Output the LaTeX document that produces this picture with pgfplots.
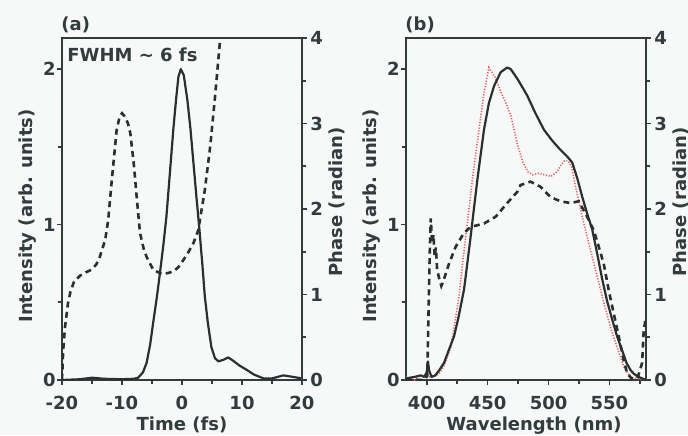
\documentclass[border=0pt]{standalone}
\usepackage{fontspec}
\setmainfont{DejaVu Sans}
\usepackage{pgfplots}
\pgfplotsset{compat=1.18}

\definecolor{ink}{RGB}{50,60,60}
\definecolor{curve}{RGB}{42,48,48}
\definecolor{redcurve}{RGB}{232,96,96}
\definecolor{paper}{RGB}{247,249,249}

\pgfplotsset{
  panel/.style={
    scale only axis, width=120pt, height=171pt,
    anchor=south west, ymin=0,
    axis line style={draw=ink, line width=1pt},
    tick style={draw=ink, line width=0.8pt},
    major tick length=2.5pt, minor tick length=1.8pt,
    tick align=outside,
    tick label style={font=\fontsize{9}{10}\selectfont\bfseries, text=ink},
    label style={font=\fontsize{9}{10}\selectfont\bfseries, text=ink},
    xticklabel style={anchor=base, yshift=-12pt},
    xlabel style={at={(axis description cs:0.5,0)}, anchor=base, yshift=-25pt},
  },
  % ylabels are rotated by 90 degrees, so xshift moves them up and yshift moves them left
  leftpanel/.style={panel, xtick pos=bottom, ytick pos=left, ymax=2.2,
    ytick={0,1,2}, yticklabels={0,1,2}, minor ytick={0.5,1.5},
    yticklabel style={anchor=east, inner sep=0pt, xshift=-0.5pt},
    ylabel={Intensity (arb. units)},
    ylabel style={at={(axis description cs:0,0.5)}, anchor=center, xshift=-3.5pt, yshift=17.2pt},
  },
  rightpanel/.style={panel, axis x line=none, axis y line*=right, ymax=4,
    ytick={0,1,2,3,4}, yticklabels={0,1,2,3,4}, minor ytick={0.5,1.5,2.5,3.5},
    yticklabel style={anchor=west, inner sep=0pt, xshift=1.5pt},
    ylabel={Phase (radian)},
    ylabel style={overlay, at={(axis description cs:1,0.5)}, anchor=center, xshift=3.5pt, yshift=-17.2pt},
  },
  solidline/.style={color=curve, line width=1.1pt, line join=round},
  dashline/.style={color=curve, line width=1.3pt, dash pattern=on 3pt off 2.2pt},
  dotline/.style={color=redcurve, line width=0.8pt, dash pattern=on 0.6pt off 0.8pt},
}

\begin{document}
\begin{tikzpicture}
\fill[paper] (0,0) rectangle (344pt,217.5pt);
\useasboundingbox (0,0) rectangle (344pt,217.5pt);

% ---------- (a) temporal profile ----------
\begin{axis}[leftpanel, at={(31pt,27.5pt)},
  xmin=-20, xmax=20,
  xtick={-20,-10,0,10,20}, xticklabels={-20,-10,0,10,20},
  minor xtick={-15,-5,5,15},
  xlabel={Time (fs)}]
\addplot[solidline] coordinates {
  (-20,0.0) (-17,0.005) (-15,0.015) (-13,0.008) (-10,0.005) (-8,0.008)
  (-7.3,0.015) (-6.5,0.05) (-5.9,0.11) (-5.3,0.23) (-4.8,0.37) (-4.2,0.53)
  (-3.7,0.68) (-3.1,0.87) (-2.6,1.05) (-2.0,1.34) (-1.45,1.61) (-1.0,1.80)
  (-0.6,1.95) (-0.2,2.0) (0.3,1.96) (0.9,1.80) (1.4,1.62) (1.9,1.40)
  (2.4,1.18) (2.9,0.97) (3.4,0.74) (3.8,0.54) (4.3,0.37) (4.9,0.21)
  (5.5,0.14) (6.05,0.12) (6.9,0.13) (7.7,0.145) (8.5,0.125) (9.5,0.095)
  (10.8,0.065) (12,0.035) (13.6,0.01) (15,0.01) (16.9,0.03) (18.5,0.02) (20,0.01)
};
\end{axis}
\begin{axis}[rightpanel, at={(31pt,27.5pt)}, xmin=-20, xmax=20]
\addplot[dashline] coordinates {
  (-20,0.0) (-19.8,0.35) (-19.5,0.62) (-19.0,0.9) (-18.6,1.03) (-18,1.15)
  (-17,1.22) (-16,1.26) (-15.1,1.29) (-14.3,1.35) (-13.7,1.44) (-12.8,1.64)
  (-12.3,1.87) (-11.7,2.34) (-11.2,2.7) (-10.9,2.92) (-10.4,3.08) (-10.0,3.12)
  (-9.5,3.08) (-9,3.0) (-8.6,2.88) (-8,2.5) (-7.5,2.1) (-7,1.72) (-6.4,1.54)
  (-5.9,1.44) (-4.8,1.29) (-3.4,1.24) (-2.4,1.25) (-1.45,1.27) (-0.6,1.32)
  (0.2,1.4) (1.1,1.5) (1.9,1.6) (2.7,1.75) (3.8,2.22) (4.7,2.73) (5.5,3.31)
  (6.3,3.94) (6.4,4.05)
};
\end{axis}

% ---------- (b) spectrum ----------
\begin{axis}[leftpanel, at={(203pt,27.5pt)},
  xmin=383, xmax=580,
  xtick={400,450,500,550}, xticklabels={400,450,500,550},
  minor xtick={425,475,525,575},
  xlabel={Wavelength (nm)},
  xlabel style={xshift=4pt}]
\addplot[dotline] coordinates {
  (383,0.02) (390,0.0) (395,0.03) (400,0.02) (405,0.02) (410,0.04)
  (414.2,0.09) (419.7,0.21) (423,0.36) (426.5,0.54) (429,0.72) (432,0.92)
  (437.5,1.29) (442.9,1.61) (446.5,1.82) (451,2.01) (456,1.95) (461,1.85)
  (465,1.78) (469,1.70) (472,1.60) (475,1.50) (479,1.40) (483,1.34)
  (487,1.32) (492,1.33) (497,1.32) (502,1.31) (507,1.34) (510,1.38)
  (513,1.41) (516,1.41) (519,1.37) (522,1.25) (527.6,1.05) (533,0.88)
  (538.5,0.71) (544,0.54) (550.8,0.34) (556.3,0.21) (561.7,0.086)
  (567,0.02) (572,0.01) (580,0.0)
};
\addplot[solidline] coordinates {
  (383,0.01) (390,0.02) (395,0.03) (398,0.02) (400,0.05) (401,0.12) (402,0.06)
  (404,0.02) (407,0.03) (410,0.06) (414.2,0.11) (418,0.19) (422.4,0.28)
  (426,0.40) (430.6,0.58) (433,0.73) (436,0.92) (441.6,1.29) (447,1.61)
  (451,1.78) (455.2,1.89) (460.7,1.98) (466,2.01) (469,2.0) (475,1.93)
  (482.5,1.83) (489,1.72) (496.2,1.61) (503,1.54) (509.8,1.48) (515,1.44)
  (519.4,1.40) (523.5,1.30) (527.6,1.18) (531.7,1.07) (535.8,0.97) (540,0.81)
  (544,0.65) (548,0.51) (552.2,0.39) (556.3,0.28) (560.4,0.19) (564,0.11)
  (567.2,0.065) (570,0.04) (574,0.02) (577,0.01) (580,0.0)
};
\end{axis}
\begin{axis}[rightpanel, at={(203pt,27.5pt)}, xmin=383, xmax=580]
\addplot[dashline] coordinates {
  (383,0.0) (398,0.0) (400.5,0.05) (401.5,0.8) (402.5,1.5) (403.3,1.89)
  (404.5,1.6) (405.5,1.7) (406.5,1.45) (407.5,1.55) (408.5,1.3) (410,1.2)
  (412,1.1) (413.5,1.15) (418.3,1.36) (423.8,1.56) (430.6,1.72) (436,1.79)
  (447,1.83) (456.6,1.91) (466.1,2.07) (474.3,2.2) (477,2.28) (485.2,2.32)
  (493.4,2.26) (501.6,2.14) (509.8,2.09) (518,2.07) (524.8,2.09) (531.7,1.91)
  (537.1,1.75) (541.2,1.56) (545.3,1.36) (549.4,1.05) (553.5,0.78)
  (557.6,0.51) (561.7,0.23) (564.5,0.08) (568,0.02) (573,0.02) (576.8,0.2)
  (578.1,0.58) (580,0.74)
};
\end{axis}

\node[anchor=west, inner sep=0pt, font=\fontsize{9}{10}\selectfont\bfseries, text=ink]
  at (30.5pt,205pt) {(a)};
\node[anchor=west, inner sep=0pt, font=\fontsize{9}{10}\selectfont\bfseries, text=ink]
  at (202.5pt,205pt) {(b)};
\node[anchor=west, inner sep=0pt, font=\fontsize{9}{10}\selectfont\bfseries, text=ink]
  at (33.5pt,190pt) {FWHM \textasciitilde\ 6 fs};
\end{tikzpicture}
\end{document}
